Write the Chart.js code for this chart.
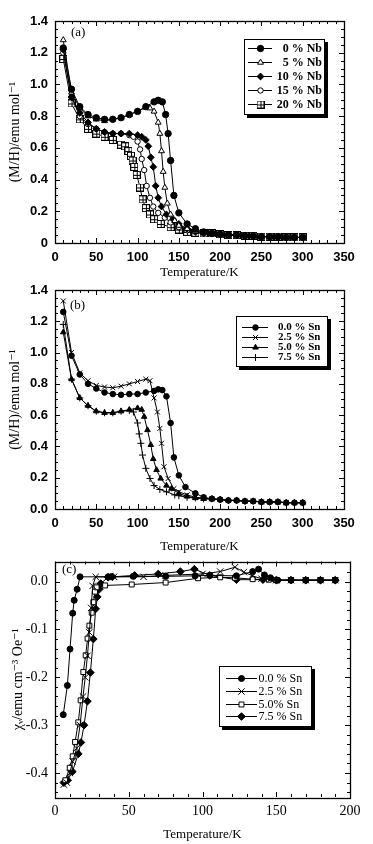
<!DOCTYPE html>
<html>
<head>
<meta charset="utf-8">
<script src="https://cdn.jsdelivr.net/npm/chart.js@4.4.1/dist/chart.umd.min.js"></script>
<style>
  html, body { margin: 0; padding: 0; background: #fff; }
  body { width: 373px; height: 844px; position: relative; overflow: hidden; }
  .panel { position: absolute; left: 0; width: 373px; }
</style>
</head>
<body>
<div class="panel" style="top:0px"><canvas id="chartA" width="373" height="282"></canvas></div>
<div class="panel" style="top:282px"><canvas id="chartB" width="373" height="274"></canvas></div>
<div class="panel" style="top:556px"><canvas id="chartC" width="373" height="288"></canvas></div>
<script>
// ---- panel (a): Nb doping ----
const tailAT = [190, 200, 210, 220, 230, 240, 250, 260, 270, 280, 290, 300];
const tailAM = [0.06, 0.055, 0.05, 0.05, 0.045, 0.045, 0.04, 0.04, 0.04, 0.035, 0.035, 0.035];

const nb0T = [10, 20, 30, 40, 50, 60, 70, 80, 90, 100, 110, 120, 125, 130, 134, 137, 140, 144, 150, 160, 170, 180];
const nb0M = [1.23, 0.97, 0.86, 0.81, 0.79, 0.78, 0.78, 0.79, 0.81, 0.83, 0.86, 0.89, 0.90, 0.89, 0.81, 0.69, 0.52, 0.30, 0.19, 0.12, 0.09, 0.07];
const nb5T = [10, 20, 30, 40, 50, 60, 70, 80, 90, 100, 110, 115, 120, 125, 127, 129, 131, 133, 136, 140, 145, 150, 160, 170, 180];
const nb5M = [1.28, 0.95, 0.85, 0.80, 0.78, 0.77, 0.78, 0.79, 0.81, 0.83, 0.855, 0.85, 0.83, 0.76, 0.69, 0.58, 0.45, 0.35, 0.25, 0.18, 0.14, 0.11, 0.09, 0.075, 0.065];
const nb10T = [10, 20, 30, 40, 50, 60, 70, 80, 90, 100, 105, 110, 113, 116, 119, 122, 125, 129, 135, 143, 150, 160, 170, 180];
const nb10M = [1.22, 0.92, 0.82, 0.76, 0.72, 0.70, 0.69, 0.69, 0.69, 0.68, 0.67, 0.65, 0.61, 0.54, 0.48, 0.36, 0.285, 0.23, 0.18, 0.15, 0.12, 0.09, 0.075, 0.065];
const nb15T = [10, 20, 30, 40, 50, 60, 70, 80, 90, 95, 100, 103, 105, 108, 111, 115, 119, 125, 133, 140, 150, 160, 170, 180];
const nb15M = [1.20, 0.92, 0.80, 0.75, 0.72, 0.70, 0.69, 0.69, 0.68, 0.67, 0.64, 0.59, 0.53, 0.46, 0.36, 0.285, 0.23, 0.19, 0.16, 0.13, 0.10, 0.08, 0.07, 0.06];
const nb20T = [10, 20, 30, 40, 50, 60, 70, 80, 85, 89, 92, 94, 96, 99, 103, 106, 110, 115, 120, 128, 140, 150, 160, 170, 180];
const nb20M = [1.16, 0.88, 0.78, 0.72, 0.69, 0.67, 0.65, 0.62, 0.61, 0.58, 0.55, 0.52, 0.48, 0.43, 0.35, 0.275, 0.22, 0.18, 0.15, 0.12, 0.10, 0.085, 0.07, 0.065, 0.06];

const labelsA = ['0 % Nb', '5 % Nb', '10 % Nb', '15 % Nb', '20 % Nb'];
const xTicksA = [0, 50, 100, 150, 200, 250, 300, 350];
const yTicksA = [0, 0.2, 0.4, 0.6, 0.8, 1.0, 1.2, 1.4];
const yLabelsA = ['0', '0.2', '0.4', '0.6', '0.8', '1.0', '1.2', '1.4'];

// ---- panel (b): Sn doping ----
const tailBT = [190, 200, 210, 220, 230, 240, 250, 260, 270, 280, 290, 300];
const tailBM = [0.065, 0.06, 0.055, 0.055, 0.05, 0.05, 0.045, 0.045, 0.045, 0.04, 0.04, 0.04];

const sn0T = [10, 20, 30, 40, 50, 60, 70, 80, 90, 100, 110, 120, 125, 130, 135, 140, 144, 150, 158, 170, 180];
const sn0M = [1.26, 0.98, 0.86, 0.80, 0.77, 0.745, 0.735, 0.73, 0.735, 0.735, 0.745, 0.755, 0.765, 0.76, 0.72, 0.55, 0.33, 0.215, 0.14, 0.10, 0.075];
const sn25T = [10, 20, 30, 40, 50, 60, 70, 80, 90, 100, 110, 115, 120, 124, 127, 129, 132, 137, 144, 150, 160, 170, 180];
const sn25M = [1.33, 1.00, 0.87, 0.82, 0.79, 0.78, 0.775, 0.785, 0.80, 0.815, 0.83, 0.82, 0.71, 0.62, 0.515, 0.42, 0.27, 0.195, 0.13, 0.11, 0.09, 0.075, 0.07];
const sn50T = [10, 20, 30, 40, 50, 60, 70, 80, 90, 100, 105, 108, 112, 116, 119, 123, 128, 135, 141, 150, 160, 170, 180];
const sn50M = [1.13, 0.83, 0.71, 0.66, 0.625, 0.615, 0.615, 0.625, 0.635, 0.645, 0.635, 0.59, 0.505, 0.41, 0.32, 0.25, 0.195, 0.15, 0.13, 0.10, 0.08, 0.07, 0.065];
const sn75T = [10, 20, 30, 40, 50, 60, 70, 80, 90, 95, 100, 102, 104, 106, 110, 115, 120, 127, 135, 145, 150, 160, 170, 180];
const sn75M = [1.18, 0.83, 0.71, 0.66, 0.625, 0.615, 0.615, 0.625, 0.63, 0.62, 0.55, 0.48, 0.42, 0.345, 0.26, 0.195, 0.15, 0.125, 0.11, 0.09, 0.085, 0.075, 0.07, 0.065];

const labelsB = ['0.0 % Sn', '2.5 % Sn', '5.0 % Sn', '7.5 % Sn'];
const yLabelsB = ['0.0', '0.2', '0.4', '0.6', '0.8', '1.0', '1.2', '1.4'];

// ---- panel (c): susceptibility ----
const c0T = [5.6, 8.4, 10.2, 12, 13, 15, 17, 36, 38, 53, 75, 95, 105, 123, 134, 138, 142, 146, 151, 160, 170, 180, 190];
const c0V = [-0.278, -0.217, -0.141, -0.066, -0.039, -0.016, 0.010, 0.010, 0.010, 0.011, 0.011, 0.012, 0.013, 0.012, 0.021, 0.026, 0.014, 0.008, 0.003, 0.003, 0.003, 0.003, 0.003];
const c25T = [6, 8, 10, 12, 14.7, 17, 19, 20.5, 22, 23.3, 24.5, 25.5, 27.6, 40, 60, 75, 100, 112, 122, 128, 134, 140, 146, 150, 160, 170, 180, 190];
const c25V = [-0.424, -0.42, -0.40, -0.376, -0.348, -0.30, -0.24, -0.20, -0.155, -0.106, -0.055, -0.009, 0.010, 0.010, 0.010, 0.013, 0.016, 0.021, 0.030, 0.020, 0.012, 0.006, 0.005, 0.003, 0.003, 0.003, 0.003, 0.003];
const c50T = [7, 10, 12, 13.6, 15.8, 17.4, 19.2, 20.8, 22.1, 23.3, 24.9, 26, 27.1, 28.2, 34, 52, 75, 97, 112, 122, 134, 145, 150, 160, 170, 180, 190];
const c50V = [-0.415, -0.389, -0.365, -0.335, -0.294, -0.248, -0.189, -0.154, -0.119, -0.092, -0.065, -0.043, -0.021, -0.012, -0.008, -0.006, -0.002, 0.007, 0.009, 0.008, 0.005, 0.004, 0.003, 0.003, 0.003, 0.003, 0.003];
const c75T = [6, 8.6, 11.8, 15.8, 17.6, 19.7, 22, 24, 26, 27.6, 28.7, 30, 31, 36, 39, 54, 70, 85, 94.5, 105, 123, 141, 150, 160, 170, 180, 190];
const c75V = [-0.42, -0.415, -0.397, -0.36, -0.336, -0.30, -0.25, -0.19, -0.12, -0.057, -0.032, -0.016, -0.004, 0.009, 0.010, 0.013, 0.016, 0.021, 0.026, 0.013, 0.004, 0.004, 0.003, 0.003, 0.003, 0.003, 0.003];

const labelsC = ['0.0 % Sn', '2.5 % Sn', '5.0% Sn', '7.5 % Sn'];
const xTicksC = [0, 50, 100, 150, 200];
const yTicksC = [-0.4, -0.3, -0.2, -0.1, 0];
const yLabelsC = ['-0.4', '-0.3', '-0.2', '-0.1', '0.0'];

const serif = '"Liberation Serif", "DejaVu Serif", serif';
const sans = '"Liberation Sans", Arial, sans-serif';

// square with a cross inside, for the 20 % Nb curve
function squareCross(size) {
    const c = document.createElement('canvas');
    c.width = size;
    c.height = size;
    const g = c.getContext('2d');
    g.fillStyle = '#fff';
    g.fillRect(0, 0, size, size);
    g.strokeStyle = '#000';
    g.lineWidth = 1;
    g.strokeRect(0.5, 0.5, size - 1, size - 1);
    const m = Math.floor(size / 2) + 0.5;
    g.beginPath();
    g.moveTo(m, 0); g.lineTo(m, size);
    g.moveTo(0, m); g.lineTo(size, m);
    g.stroke();
    return c;
}

function series(label, temps, vals, style, radius, filled) {
    return {
        label: label,
        data: temps.map((t, i) => ({ x: t, y: vals[i] })),
        showLine: true,
        borderColor: '#000',
        borderWidth: 1,
        pointStyle: style,
        pointRadius: radius,
        pointBorderWidth: 1,
        pointBorderColor: '#000',
        pointBackgroundColor: filled ? '#000' : '#fff'
    };
}

// inside ticks on all four sides plus the frame
const frameTicks = {
    id: 'frameTicks',
    afterDatasetsDraw(chart, args, o) {
        const { ctx, chartArea: a } = chart;
        const x = chart.scales.x, y = chart.scales.y;
        ctx.save();
        ctx.strokeStyle = '#000';
        ctx.lineWidth = 1;
        ctx.beginPath();
        const isMajor = (v, step) => Math.abs(v / step - Math.round(v / step)) < 1e-6;
        for (let v = Math.ceil(x.min / o.xMinor) * o.xMinor; v <= x.max + 1e-9; v += o.xMinor) {
            const px = Math.round(x.getPixelForValue(v)) + 0.5;
            const len = isMajor(v, o.xMajor) ? 5 : 3;
            ctx.moveTo(px, a.bottom); ctx.lineTo(px, a.bottom - len);
            ctx.moveTo(px, a.top); ctx.lineTo(px, a.top + len);
        }
        for (let i = Math.ceil(y.min / o.yMinor - 1e-6); i * o.yMinor <= y.max + 1e-9; i++) {
            const v = i * o.yMinor;
            const py = Math.round(y.getPixelForValue(v)) + 0.5;
            const len = isMajor(v, o.yMajor) ? 5 : 3;
            ctx.moveTo(a.left, py); ctx.lineTo(a.left + len, py);
            ctx.moveTo(a.right, py); ctx.lineTo(a.right - len, py);
        }
        ctx.stroke();
        ctx.lineWidth = 1.3;
        ctx.strokeRect(Math.round(a.left) + 0.5, Math.round(a.top) + 0.5,
            Math.round(a.right - a.left), Math.round(a.bottom - a.top));
        ctx.restore();
    }
};

// boxed legend with drop shadow, and the panel tag
const boxLegend = {
    id: 'boxLegend',
    afterDraw(chart, args, o) {
        const ctx = chart.ctx;
        ctx.save();
        ctx.fillStyle = '#000';
        ctx.font = o.tagFont;
        ctx.textAlign = 'left';
        ctx.textBaseline = 'middle';
        ctx.fillText(o.tag, o.tagX, o.tagY);

        ctx.fillStyle = '#000';
        ctx.fillRect(o.x + o.shadow, o.y + o.shadow, o.w, o.h);
        ctx.fillStyle = '#fff';
        ctx.fillRect(o.x, o.y, o.w, o.h);
        ctx.strokeStyle = '#000';
        ctx.lineWidth = 1;
        ctx.strokeRect(o.x + 0.5, o.y + 0.5, o.w - 1, o.h - 1);

        ctx.font = o.font;
        ctx.textAlign = o.align;
        chart.data.datasets.forEach((ds, i) => {
            const yy = Math.round(o.y + o.firstRow + i * o.rowH);
            ctx.strokeStyle = '#000';
            ctx.lineWidth = 1;
            ctx.beginPath();
            ctx.moveTo(o.x1, yy + 0.5);
            ctx.lineTo(o.x2, yy + 0.5);
            ctx.stroke();
            ctx.fillStyle = ds.pointBackgroundColor;
            Chart.helpers.drawPoint(ctx, {
                pointStyle: ds.pointStyle, radius: ds.pointRadius, borderWidth: 1, rotation: 0
            }, o.mx, yy + 0.5);
            ctx.fillStyle = '#000';
            ctx.fillText(ds.label, o.tx, yy + 0.5);
        });
        ctx.restore();
    }
};

function makePanel(id, datasets, p) {
    const canvas = document.getElementById(id);
    const H = canvas.height;
    return new Chart(canvas, {
        type: 'scatter',
        data: { datasets: datasets },
        plugins: [frameTicks, boxLegend],
        options: {
            responsive: false,
            animation: false,
            layout: { padding: { top: p.top, right: 373 - p.right, bottom: 0, left: 0 } },
            plugins: {
                legend: { display: false },
                tooltip: { enabled: false },
                frameTicks: p.ticks,
                boxLegend: p.legend
            },
            scales: {
                x: {
                    type: 'linear',
                    min: p.xMin, max: p.xMax,
                    grid: { display: false, drawTicks: false },
                    border: { display: false },
                    afterBuildTicks: s => { s.ticks = p.xTicks.map(v => ({ value: v })); },
                    afterFit: s => { s.height = H - p.bottom; s.paddingLeft = 0; s.paddingRight = 0; },
                    ticks: {
                        padding: p.xPad,
                        color: '#000',
                        font: p.tickFont,
                        maxRotation: 0,
                        autoSkip: false,
                        callback: v => String(v)
                    },
                    title: {
                        display: true,
                        text: 'Temperature/K',
                        color: '#000',
                        font: { family: serif, size: 13 },
                        padding: p.xTitlePad
                    }
                },
                y: {
                    type: 'linear',
                    min: p.yMin, max: p.yMax,
                    grid: { display: false, drawTicks: false },
                    border: { display: false },
                    afterBuildTicks: s => { s.ticks = p.yTicks.map(v => ({ value: v })); },
                    afterFit: s => { s.width = p.left; s.paddingTop = 0; s.paddingBottom = 0; },
                    ticks: {
                        padding: 7,
                        color: '#000',
                        font: p.tickFont,
                        autoSkip: false,
                        callback: (v, i) => p.yLabels[i]
                    },
                    title: {
                        display: true,
                        text: p.yTitle,
                        color: '#000',
                        font: { family: serif, size: 14 },
                        padding: p.yTitlePad
                    }
                }
            }
        }
    });
}

const boldSans = { family: sans, size: 13, weight: 'bold' };
const serifTick = { family: serif, size: 14 };

makePanel('chartA', [
    series(labelsA[0], nb0T.concat(tailAT), nb0M.concat(tailAM), 'circle', 3.2, true),
    series(labelsA[1], nb5T.concat(tailAT), nb5M.concat(tailAM), 'triangle', 3.4, false),
    series(labelsA[2], nb10T.concat(tailAT), nb10M.concat(tailAM), 'rectRot', 3.4, true),
    series(labelsA[3], nb15T.concat(tailAT), nb15M.concat(tailAM), 'circle', 2.7, false),
    series(labelsA[4], nb20T.concat(tailAT), nb20M.concat(tailAM), squareCross(8), 4, false)
], {
    top: 21, bottom: 243, left: 55, right: 344,
    xMin: 0, xMax: 350, yMin: 0, yMax: 1.4,
    xTicks: xTicksA, yTicks: yTicksA, yLabels: yLabelsA,
    tickFont: boldSans, xPad: 7, xTitlePad: { top: 2, bottom: 2 }, yTitlePad: { top: 7, bottom: 4 },
    yTitle: '(M/H)/emu mol\u207B\u00B9',
    ticks: { xMinor: 10, xMajor: 50, yMinor: 0.05, yMajor: 0.2 },
    legend: {
        tag: '(a)', tagX: 71, tagY: 33, tagFont: '13px ' + serif,
        x: 244, y: 39, w: 81, h: 76, shadow: 3,
        firstRow: 8.5, rowH: 14.2, x1: 248, x2: 272, mx: 260.5,
        tx: 322, align: 'right', font: 'bold 12px ' + serif
    }
});

makePanel('chartB', [
    series(labelsB[0], sn0T.concat(tailBT), sn0M.concat(tailBM), 'circle', 2.8, true),
    series(labelsB[1], sn25T.concat(tailBT), sn25M.concat(tailBM), 'crossRot', 3.5, false),
    series(labelsB[2], sn50T.concat(tailBT), sn50M.concat(tailBM), 'triangle', 3.2, true),
    series(labelsB[3], sn75T.concat(tailBT), sn75M.concat(tailBM), 'cross', 3.5, false)
], {
    top: 8, bottom: 227, left: 55, right: 344,
    xMin: 0, xMax: 350, yMin: 0, yMax: 1.4,
    xTicks: xTicksA, yTicks: yTicksA, yLabels: yLabelsB,
    tickFont: boldSans, xPad: 7, xTitlePad: { top: 2, bottom: 2 }, yTitlePad: { top: 7, bottom: 4 },
    yTitle: '(M/H)/emu mol\u207B\u00B9',
    ticks: { xMinor: 10, xMajor: 50, yMinor: 0.05, yMajor: 0.2 },
    legend: {
        tag: '(b)', tagX: 70, tagY: 24, tagFont: '13px ' + serif,
        x: 236, y: 34, w: 92, h: 51, shadow: 3,
        firstRow: 10.7, rowH: 10.2, x1: 242, x2: 268, mx: 255.5,
        tx: 278, align: 'left', font: 'bold 11px ' + serif
    }
});

makePanel('chartC', [
    series(labelsC[0], c0T, c0V, 'circle', 3, true),
    series(labelsC[1], c25T, c25V, 'crossRot', 4.5, false),
    series(labelsC[2], c50T, c50V, 'rect', 3.5, false),
    series(labelsC[3], c75T, c75V, 'rectRot', 3.8, true)
], {
    top: 5, bottom: 241, left: 55, right: 350,
    xMin: 0, xMax: 200, yMin: -0.45, yMax: 0.042,
    xTicks: xTicksC, yTicks: yTicksC, yLabels: yLabelsC,
    tickFont: serifTick, xPad: 6, xTitlePad: { top: 2, bottom: 2 }, yTitlePad: { top: 10, bottom: 4 },
    yTitle: '\u03C7\u1D65/emu cm\u207B\u00B3 Oe\u207B\u00B9',
    ticks: { xMinor: 10, xMajor: 50, yMinor: 0.02, yMajor: 0.1 },
    legend: {
        tag: '(c)', tagX: 62, tagY: 14, tagFont: '13px ' + serif,
        x: 219, y: 110, w: 93, h: 61, shadow: 3,
        firstRow: 12, rowH: 12.8, x1: 226, x2: 257, mx: 241.5,
        tx: 258.5, align: 'left', font: '12px ' + serif
    }
});
</script>
</body>
</html>
